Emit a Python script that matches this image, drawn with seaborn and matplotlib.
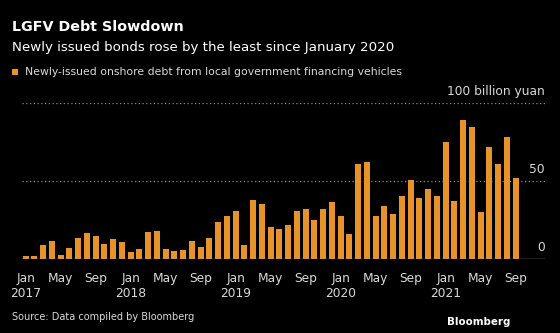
import matplotlib
matplotlib.use("Agg")
import matplotlib.pyplot as plt
import seaborn as sns
import pandas as pd
import numpy as np

months = pd.date_range("2017-01-01", "2021-09-01", freq="MS").strftime("%Y-%m").tolist()
values = [2.1, 2.1, 9.2, 11.3, 2.8, 7.1, 13.7, 16.7, 14.7, 9.8, 13.0, 10.9,
          4.3, 6.4, 17.3, 17.9, 6.4, 5.3, 6.0, 11.3, 7.7, 13.7, 23.5, 27.8,
          30.6, 9.2, 38.0, 35.5, 20.3, 19.4, 21.8, 31.0, 32.3, 25.0, 32.3, 36.5,
          27.8, 16.0, 61.1, 61.8, 27.8, 34.0, 28.8, 40.4, 50.4, 38.9, 44.9, 40.4,
          75.0, 37.0, 89.1, 84.2, 30.1, 71.6, 60.5, 78.2, 51.9]
tick_labels = ["Jan\n2017", "May", "Sep", "Jan\n2018", "May", "Sep", "Jan\n2019", "May", "Sep",
               "Jan\n2020", "May", "Sep", "Jan\n2021", "May", "Sep"]
y_ticks = [0, 50, 100]
y_labels = ["0", "50", "100 billion yuan"]

df = pd.DataFrame({"month": months, "value": values})

BG = "black"
ORANGE = "#E8922A"
GRID = "#8a8a8a"
TEXT = "#d9d9d9"

sns.set_style("dark")
plt.rcParams["font.family"] = ["DejaVu Sans"]

fig = plt.figure(figsize=(5.6, 3.33), dpi=100, facecolor=BG)
ax = fig.add_axes([0.0393, 0.2222, 0.9339, 0.4694])
ax.set_facecolor(BG)

sns.barplot(data=df, x="month", y="value", color=ORANGE, width=0.7,
            saturation=1, ax=ax, linewidth=0)

ax.set_xlim(-0.42, 59.35)
ax.set_ylim(0, 100)
for s in ax.spines.values():
    s.set_visible(False)
ax.grid(False)

for yv in [50, 100]:
    ax.axhline(yv, color=GRID, lw=0.9, ls=(0, (1, 2)), zorder=0)
ax.axhline(0, color="#9a9a9a", lw=1.0, zorder=3)

ax.set_xlabel("")
ax.set_ylabel("")
ax.set_yticks([])
tick_pos = list(range(0, len(months), 4))
ax.set_xticks(tick_pos)
ax.set_xticklabels(tick_labels, color=TEXT, fontsize=8.8, linespacing=1.25)
ax.tick_params(axis="x", length=4, width=0.8, color="#7f93a8", pad=5, direction="out")

for yv, lab in zip(y_ticks, y_labels):
    ax.text(59.3, yv + 3, lab, color=TEXT, fontsize=8.8, ha="right", va="bottom")

fig.text(0.021, 0.92, "LGFV Debt Slowdown", color="white", fontsize=10.3,
         fontweight="bold", ha="left", va="center")
fig.text(0.021, 0.858, "Newly issued bonds rose by the least since January 2020",
         color="white", fontsize=9.6, ha="left", va="center")
fig.patches.append(plt.Rectangle((0.022, 0.776), 0.010, 0.018, transform=fig.transFigure,
                                 facecolor=ORANGE, edgecolor="none"))
fig.text(0.044, 0.785, "Newly-issued onshore debt from local government financing vehicles",
         color=TEXT, fontsize=7.8, ha="left", va="center")
fig.text(0.021, 0.048, "Source: Data compiled by Bloomberg", color=TEXT, fontsize=7.0,
         ha="left", va="center")
fig.text(0.912, 0.034, "Bloomberg", color="white", fontsize=7.4, fontweight="bold",
         ha="right", va="center")

fig.savefig("out.png", dpi=100, facecolor=BG)
